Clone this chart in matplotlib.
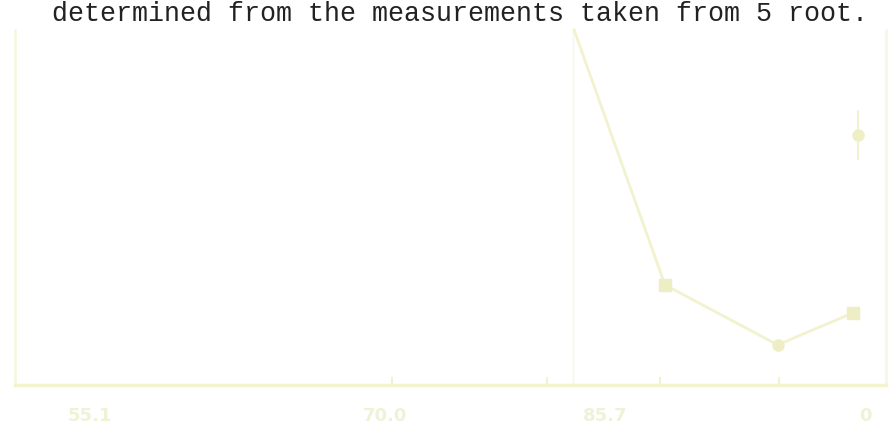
import matplotlib
matplotlib.use("Agg")
import matplotlib.pyplot as plt

# faded scan: one series (0-100 scale on both axes)
x_vals = [64.0, 74.4, 87.3, 95.9]
y_vals = [100.0, 28.2, 11.3, 20.3]
marker_kinds = ["", "s", "o", "s"]

# lone point near the right edge with a short error bar
x_lone = [96.5]
y_lone = [70.4]
err_lone = [7.0]

tick_pos = [8.6, 43.2, 60.9, 73.8, 87.5]
label_pos = [8.6, 42.3, 67.5, 97.3]
tick_labels = ["55.1", "70.0", "85.7", "0"]

caption = "determined from the measurements taken from 5 root."

pale = "#f2f2cf"
pale_text = "#f0f2d8"

fig = plt.figure(figsize=(8.89, 4.42), dpi=100)
fig.patch.set_facecolor("white")

# axes box in pixels: left 15, right 886, bottom 385, top 30
ax = fig.add_axes([15 / 889, 1 - 385 / 442, (886 - 15) / 889, (385 - 30) / 442])
ax.set_xlim(0, 99.7)
ax.set_ylim(0, 100)

ax.plot(x_vals, y_vals, color=pale, lw=2, zorder=2, clip_on=False)
for x, y, m in zip(x_vals, y_vals, marker_kinds):
    if m:
        ax.plot(x, y, marker=m, ms=8, color="#eeeec4", mec="#eeeec4", zorder=3)
ax.errorbar(x_lone, y_lone, yerr=err_lone, fmt="o", ms=8, color="#efefc6",
            ecolor=pale, elinewidth=1.5, capsize=0)

ax.axvline(63.9, color="#f7f7e8", lw=1, zorder=1)

ax.spines["top"].set_visible(False)
ax.spines["bottom"].set_color("#f3f3d0")
ax.spines["bottom"].set_linewidth(2.5)
ax.spines["left"].set_color("#f6f8e2")
ax.spines["left"].set_linewidth(2)
ax.spines["right"].set_color("#f7f7e6")
ax.spines["right"].set_linewidth(2)

ax.set_xticks(label_pos)
ax.set_xticklabels(tick_labels, fontsize=13, color=pale_text, family="DejaVu Sans",
                   fontweight="bold")
ax.set_xticks(tick_pos, minor=True)
ax.tick_params(axis="x", which="major", length=0, pad=16)
ax.tick_params(axis="x", which="minor", direction="in", length=6, width=1.5, color=pale)
ax.set_yticks([])

fig.text(52 / 889, 1 - 21 / 442, caption, family="Liberation Mono",
         fontsize=19.2, color="#222222", va="baseline", ha="left")

fig.savefig("out.png", dpi=100, facecolor="white")
